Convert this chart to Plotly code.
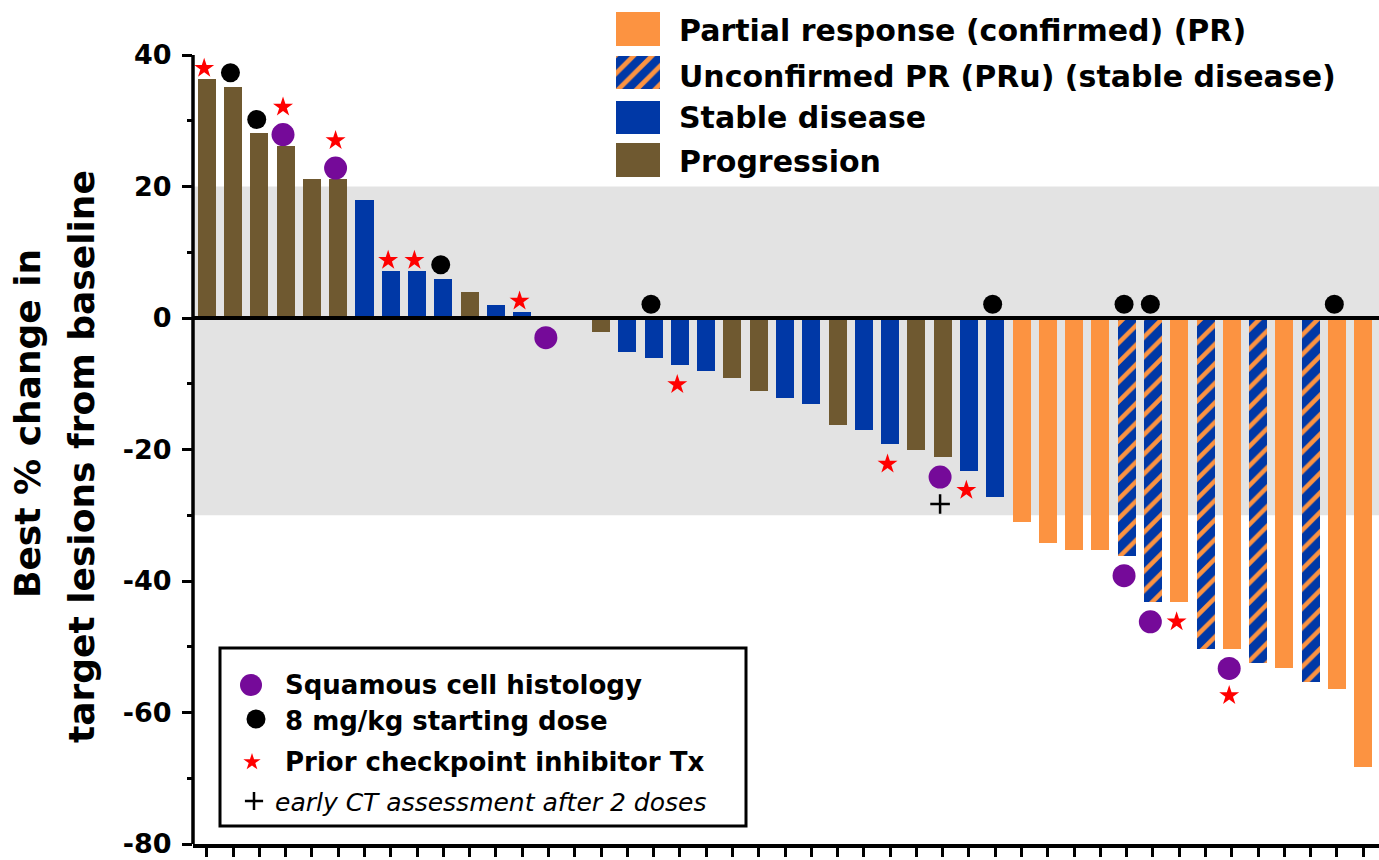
import plotly.graph_objects as go

# ---------------- data ----------------
best_change = [36.3, 35.2, 28.1, 26.2, 21.1, 21.1, 18.0, 7.1, 7.1, 6.0, 4.0, 2.0, 0.9, 0.0, 0.0,
               -2.1, -5.2, -6.1, -7.1, -8.1, -9.1, -11.1, -12.2, -13.1, -16.2, -17.1, -19.2, -20.1, -21.2,
               -23.2, -27.2, -31.1, -34.2, -35.3, -35.3, -36.2, -43.2, -43.2, -50.3, -50.3, -52.4, -53.3,
               -55.3, -56.4, -68.3]
response = ['PD', 'PD', 'PD', 'PD', 'PD', 'PD', 'SD', 'SD', 'SD', 'SD', 'PD', 'SD', 'SD', 'SD', 'SD',
            'PD', 'SD', 'SD', 'SD', 'SD', 'PD', 'PD', 'SD', 'SD', 'PD', 'SD', 'SD', 'PD', 'PD',
            'SD', 'SD', 'PR', 'PR', 'PR', 'PR', 'PRu', 'PRu', 'PR', 'PRu', 'PR', 'PRu', 'PR',
            'PRu', 'PR', 'PR']
category_order = ['PR', 'PRu', 'SD', 'PD']
category_labels = ['Partial response (confirmed) (PR)',
                   'Unconfirmed PR (PRu) (stable disease)',
                   'Stable disease',
                   'Progression']

squamous = [3, 5, 13, 28, 35, 36, 39]
dose8 = [1, 2, 9, 17, 30, 35, 36, 43]
prior_cpi = [0, 3, 5, 7, 8, 12, 18, 26, 29, 37, 39]
early_ct = [28]
marker_labels = ['Squamous cell histology', '8 mg/kg starting dose',
                 'Prior checkpoint inhibitor Tx', 'early CT assessment after 2 doses']

ytick_vals = [-80, -60, -40, -20, 0, 20, 40]
ytick_text = ['-80', '-60', '-40', '-20', '0', '20', '40']
yminor_vals = [-70, -50, -30, -10, 10, 30]
band_low, band_high = -30, 20
y_min, y_max = -80, 40

# ---------------- style ----------------
ORANGE = '#FC9341'
BLUE = '#0038A6'
BROWN = '#6F5930'
PURPLE = '#750A99'
GRAY = '#E3E3E3'
RED = '#FF0000'
FONT = 'DejaVu Sans'
colors = {'PR': ORANGE, 'PRu': BLUE, 'SD': BLUE, 'PD': BROWN}
HATCH = dict(shape='/', bgcolor=BLUE, fgcolor=ORANGE, size=13.8, solidity=0.33, fillmode='replace')
HATCH_KEY = dict(shape='/', bgcolor=BLUE, fgcolor=ORANGE, size=13, solidity=0.36, fillmode='replace')

W, H = 1379, 860
ML, MB, MT = 193, 16, 0
PLOT_H = H - MB - MT
Y40_PX = 55  # pixel row of the top tick
y_top = y_max + Y40_PX * (y_max - y_min) / (PLOT_H - Y40_PX)

def px_x(px):
    return (px - ML) / (W - ML)

def px_y(py):
    return (PLOT_H - py) / PLOT_H

fig = go.Figure()

# bars
n = len(best_change)
for cat in category_order:
    idx = [i for i in range(n) if response[i] == cat]
    marker = dict(color=colors[cat], line=dict(width=0))
    if cat == 'PRu':
        marker['pattern'] = HATCH
    fig.add_trace(go.Bar(x=idx, y=[best_change[i] for i in idx], width=0.685,
                         marker=marker, showlegend=False, hoverinfo='skip'))

# annotation markers stacked beyond bar ends
POS_SLOTS = [1.7, 5.9]
NEG_SLOTS = [-3.0, -7.1]
DOSE_OFFSET = 2.1
DX = -0.1
pts = {'sq': ([], []), 'cpi': ([], []), 'ct': ([], []), 'dose': ([], [])}
for i, v in enumerate(best_change):
    stack = [k for k, lst in (('sq', squamous), ('cpi', prior_cpi), ('ct', early_ct)) if i in lst]
    slots = POS_SLOTS if v > 0 else NEG_SLOTS
    for k, s in zip(stack, slots):
        pts[k][0].append(i + DX)
        pts[k][1].append(v + s)
    if i in dose8:
        pts['dose'][0].append(i + DX)
        pts['dose'][1].append(max(v, 0) + DOSE_OFFSET)

marker_styles = {
    'sq': dict(symbol='circle', size=23, color=PURPLE),
    'dose': dict(symbol='circle', size=19, color='black'),
    'cpi': dict(symbol='star', size=15, color=RED),
    'ct': dict(symbol='cross-thin', size=14, color='black', line=dict(width=2.5, color='black')),
}
for k in ['sq', 'dose', 'cpi', 'ct']:
    fig.add_trace(go.Scatter(x=pts[k][0], y=pts[k][1], mode='markers', marker=marker_styles[k],
                             cliponaxis=False, showlegend=False, hoverinfo='skip'))

# ---------------- legends (pixel overlay axes) ----------------
SW_L, SW_W, SW_H = 616, 44, 33.4
sw_rows = [29, 72.7, 117.7, 160]
txt_rows = [30.7, 76, 118, 161.7]
for cat, cy in zip(category_order, sw_rows):
    mk = dict(color=colors[cat], line=dict(width=0))
    if cat == 'PRu':
        mk['pattern'] = HATCH_KEY
    fig.add_trace(go.Bar(x=[SW_L + SW_W / 2], y=[SW_H], base=[cy - SW_H / 2], width=SW_W,
                         marker=mk, xaxis='x2', yaxis='y2', showlegend=False, hoverinfo='skip'))
for label, ty in zip(category_labels, txt_rows):
    fig.add_annotation(x=px_x(677), y=px_y(ty), xref='paper', yref='paper', text=label,
                       showarrow=False, xanchor='left', yanchor='middle',
                       font=dict(family=FONT, size=30, color='black', weight='bold'))

# bottom key box
fig.add_shape(type='rect', xref='x2', yref='y2', x0=220, x1=746, y0=648, y1=826,
              line=dict(color='black', width=3), fillcolor='white', layer='below')
key_mk = [(251, 685, 'sq'), (256, 719, 'dose'), (252, 762, 'cpi'), (254, 801, 'ct')]
key_sizes = {'sq': 22, 'dose': 19, 'cpi': 13, 'ct': 13}
for kx, ky, k in key_mk:
    st = dict(marker_styles[k])
    st['size'] = key_sizes[k]
    fig.add_trace(go.Scatter(x=[kx], y=[ky], mode='markers', marker=st, xaxis='x2', yaxis='y2',
                             showlegend=False, hoverinfo='skip'))
key_txt = [(283, 685, False), (283, 721, False), (283, 762, False), (273, 802, True)]
for (tx, ty, ital), label in zip(key_txt, marker_labels):
    f = dict(family=FONT, size=25 if ital else 26, color='black', weight='normal' if ital else 'bold',
             style='italic' if ital else 'normal')
    fig.add_annotation(x=px_x(tx), y=px_y(ty), xref='paper', yref='paper', text=label,
                       showarrow=False, xanchor='left', yanchor='middle', font=f)

# y-axis title (two lines)
for text, cx, cy in [('Best % change in', 27, 424), ('target lesions from baseline', 81, 457)]:
    fig.add_annotation(x=px_x(cx), y=px_y(cy), xref='paper', yref='paper', text=text,
                       textangle=-90, showarrow=False, xanchor='center', yanchor='middle',
                       font=dict(family=FONT, size=36, color='black', weight='bold'))

# reference band, y axis line, zero line
fig.add_shape(type='rect', xref='paper', yref='y', x0=0, x1=1, y0=band_low, y1=band_high,
              fillcolor=GRAY, line=dict(width=0), layer='below')
fig.add_shape(type='line', xref='paper', yref='y', x0=0, x1=0, y0=y_min, y1=y_max,
              line=dict(color='black', width=3.5))
fig.add_shape(type='line', xref='paper', yref='y', x0=0, x1=1, y0=0, y1=0,
              line=dict(color='black', width=4))

fig.update_layout(
    width=W, height=H,
    margin=dict(l=ML, r=0, t=MT, b=MB, pad=0),
    paper_bgcolor='white', plot_bgcolor='white',
    barmode='overlay', bargap=0, hovermode=False, showlegend=False,
    xaxis=dict(range=[-0.525, 44.6], tickvals=list(range(n)), showticklabels=False,
               ticks='outside', ticklen=9, tickwidth=3, tickcolor='black',
               showline=True, linewidth=3.5, linecolor='black', showgrid=False, zeroline=False),
    yaxis=dict(range=[y_min, y_top], tickvals=ytick_vals, ticktext=ytick_text,
               ticks='outside', ticklen=10, tickwidth=3, tickcolor='black',
               tickfont=dict(family=FONT, size=27, color='black', weight='bold'),
               ticklabelstandoff=5, ticklabeloverflow='allow',
               minor=dict(tickvals=yminor_vals, ticks='outside', ticklen=5, tickwidth=3,
                          tickcolor='black', showgrid=False),
               showline=False, showgrid=False, zeroline=False),
    xaxis2=dict(overlaying='x', range=[ML, W], visible=False),
    yaxis2=dict(overlaying='y', range=[PLOT_H, 0], visible=False),
)

fig.write_html('out.html')
